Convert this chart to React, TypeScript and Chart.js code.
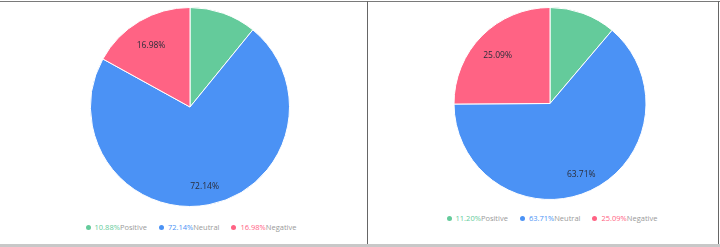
import React, { useEffect, useRef } from "react";
import { Chart, registerables } from "chart.js";

Chart.register(...registerables);

const categories = ["Positive", "Neutral", "Negative"];
const leftValues = [10.88, 72.14, 16.98];
const rightValues = [11.2, 63.71, 25.09];
const sliceColors = ["#64CB9B", "#4B92F5", "#FF6384"];

const FONT = "'Open Sans', 'Noto Sans', sans-serif";

const labelPlugin = {
  id: "sliceLabels",
  afterDatasetsDraw(chart: any) {
    const ctx = chart.ctx;
    const meta = chart.getDatasetMeta(0);
    const data = chart.data.datasets[0].data as number[];
    ctx.save();
    ctx.font = `8.5px ${FONT}`;
    ctx.fillStyle = "#2a2d3a";
    ctx.textAlign = "center";
    ctx.textBaseline = "top";
    meta.data.forEach((arc: any, i: number) => {
      const v = data[i];
      if (v < 15) return;
      const { x, y, startAngle, endAngle, outerRadius } = arc.getProps(
        ["x", "y", "startAngle", "endAngle", "outerRadius"],
        true
      );
      const mid = (startAngle + endAngle) / 2;
      const r = outerRadius * 0.77;
      ctx.fillText(v.toFixed(2) + "%", x + Math.cos(mid) * r, y + Math.sin(mid) * r);
    });
    ctx.restore();
  },
};

type PanelProps = {
  values: number[];
  left: number;
  width: number;
  height: number;
  padding: { top: number; bottom: number; left: number; right: number };
  legendX: number;
  legendY: number;
};

function PiePanel({ values, left, width, height, padding, legendX, legendY }: PanelProps) {
  const ref = useRef<HTMLCanvasElement | null>(null);
  useEffect(() => {
    if (!ref.current) return;
    const chart = new Chart(ref.current, {
      type: "pie",
      data: {
        labels: categories,
        datasets: [
          {
            data: values,
            backgroundColor: sliceColors,
            borderColor: "#ffffff",
            borderWidth: 1,
          },
        ],
      },
      options: {
        responsive: false,
        animation: false,
        layout: { padding },
        plugins: {
          legend: { display: false },
          tooltip: { enabled: false },
        },
      },
      plugins: [labelPlugin],
    });
    return () => chart.destroy();
  }, []);

  return (
    <>
      <canvas
        ref={ref}
        width={width}
        height={height}
        style={{ position: "absolute", left, top: 0, width, height }}
      />
      <div
        style={{
          position: "absolute",
          left: legendX - 150,
          top: legendY - 6,
          width: 300,
          height: 12,
          display: "flex",
          justifyContent: "center",
          alignItems: "center",
          fontFamily: FONT,
          fontSize: "7.5px",
          lineHeight: "12px",
          whiteSpace: "nowrap",
        }}
      >
        {categories.map((c, i) => (
          <div
            key={c}
            style={{
              display: "flex",
              alignItems: "center",
              marginLeft: i === 0 ? 0 : 12,
            }}
          >
            <span
              style={{
                display: "inline-block",
                width: 5,
                height: 5,
                borderRadius: "50%",
                background: sliceColors[i],
                marginRight: 4,
              }}
            />
            <span style={{ color: sliceColors[i] }}>{values[i].toFixed(2) + "%"}</span>
            <span style={{ color: "#9a9a9a" }}>{c}</span>
          </div>
        ))}
      </div>
    </>
  );
}

export default function App() {
  return (
    <div
      style={{
        position: "absolute",
        left: 0,
        top: 0,
        width: 720,
        height: 247,
        overflow: "hidden",
        background: "#ffffff",
      }}
    >
      <PiePanel
        values={leftValues}
        left={0}
        width={367}
        height={214}
        padding={{ top: 7, bottom: 7, left: 13, right: 0 }}
        legendX={191}
        legendY={227}
      />
      <PiePanel
        values={rightValues}
        left={368}
        width={350}
        height={206}
        padding={{ top: 7, bottom: 6, left: 14, right: 0 }}
        legendX={552}
        legendY={218}
      />
      <div style={{ position: "absolute", left: 0, top: 1, width: 720, height: 1, background: "#7a7a7a" }} />
      <div style={{ position: "absolute", left: 367, top: 1, width: 1, height: 244, background: "#666666" }} />
      <div style={{ position: "absolute", left: 718, top: 1, width: 1, height: 244, background: "#666666" }} />
      <div style={{ position: "absolute", left: 0, top: 244, width: 720, height: 3, background: "#c8c8c8" }} />
    </div>
  );
}
